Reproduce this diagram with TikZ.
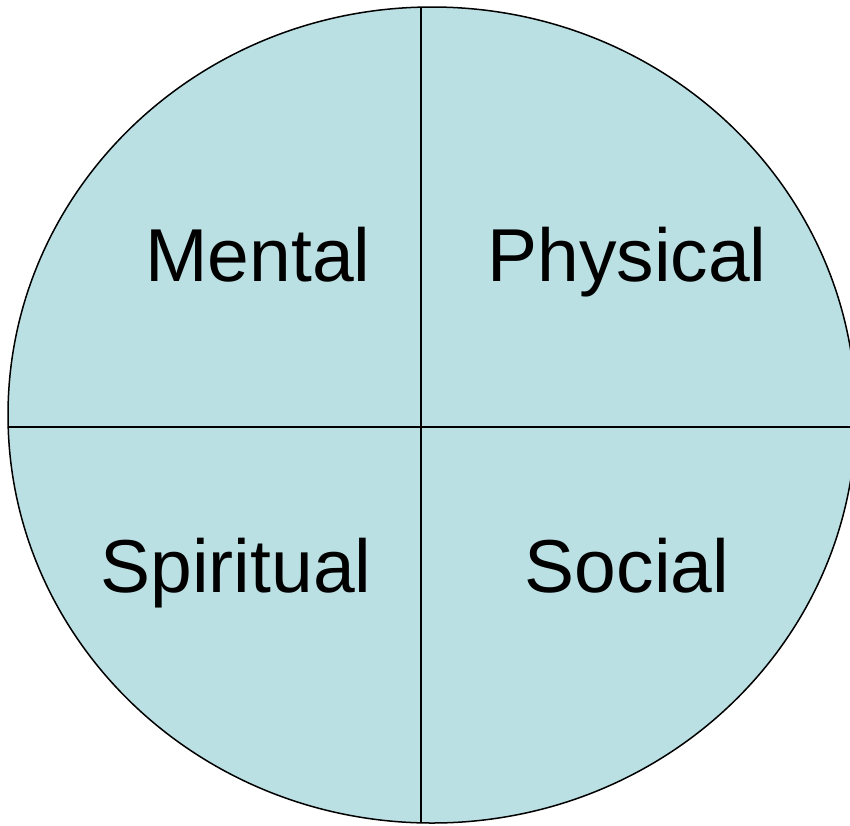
\documentclass[tikz,border=0pt]{standalone}
\usepackage{fontspec}
\setmainfont{Liberation Sans}
\definecolor{paleblue}{RGB}{187,224,227}
\begin{document}
\begin{tikzpicture}[x=1pt, y=-1pt]
\useasboundingbox (0,0) rectangle (850,825);
\clip (0,0) rectangle (850,825);
\draw[fill=paleblue, line width=1.5pt] (432,415) ellipse [x radius=424, y radius=408];
\coordinate (top) at (421,7);
\coordinate (bottom) at (421,823);
\coordinate (left) at (8,427);
\coordinate (right) at (860,427);
\draw[line width=2pt] (top) -- (bottom);
\draw[line width=2pt] (left) -- (right);
\node[anchor=base, inner sep=0pt, font=\fontsize{75}{90}\selectfont](mental) at (258,281){Mental};
\node[anchor=base, inner sep=0pt, font=\fontsize{75}{90}\selectfont](physical) at (627,281){Physical};
\node[anchor=base, inner sep=0pt, font=\fontsize{75}{90}\selectfont](spiritual) at (236,592){Spiritual};
\node[anchor=base, inner sep=0pt, font=\fontsize{75}{90}\selectfont](social) at (627,592){Social};
\end{tikzpicture}
\end{document}
